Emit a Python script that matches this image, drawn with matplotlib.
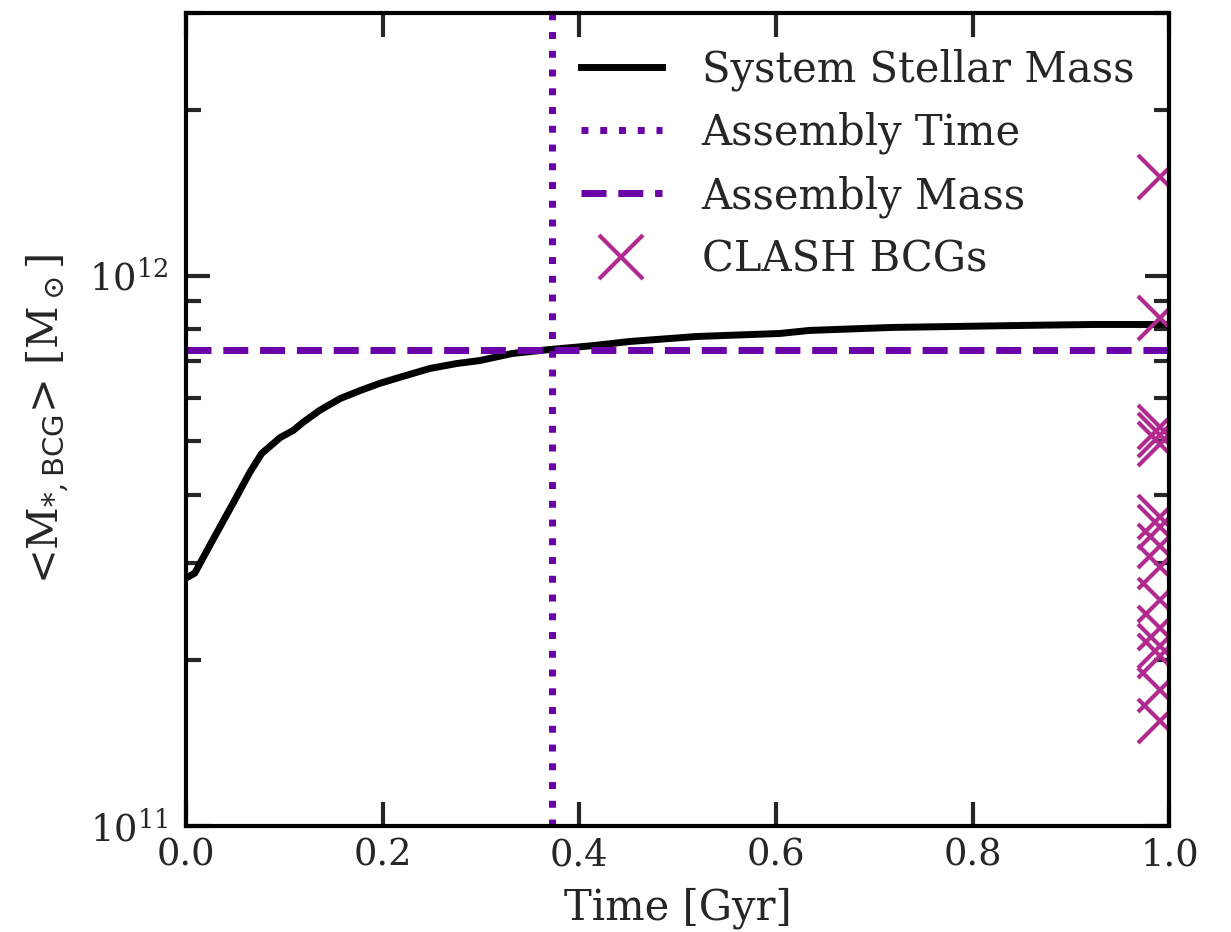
import numpy as np
import matplotlib.pyplot as plt

# mean BCG stellar mass growth (Gyr, Msun)
time_gyr = [0.0, 0.009, 0.027, 0.048, 0.065, 0.077, 0.096, 0.109, 0.119, 0.136,
            0.157, 0.177, 0.197, 0.217, 0.248, 0.275, 0.299, 0.332, 0.370, 0.414,
            0.451, 0.519, 0.604, 0.634, 0.718, 0.855, 0.922, 1.0]
stellar_mass = [2.82e11, 2.88e11, 3.30e11, 3.86e11, 4.39e11, 4.75e11, 5.08e11, 5.23e11,
                5.41e11, 5.69e11, 5.98e11, 6.18e11, 6.37e11, 6.53e11, 6.78e11, 6.92e11,
                7.01e11, 7.22e11, 7.34e11, 7.46e11, 7.59e11, 7.75e11, 7.85e11, 7.95e11,
                8.05e11, 8.12e11, 8.15e11, 8.15e11]

assembly_time = 0.372
assembly_mass = 7.34e11

# CLASH BCG stellar masses, plotted at the end of the run
clash_time = 0.99
clash_mass = [1.51e12, 8.39e11, 5.30e11, 5.14e11, 4.95e11, 3.64e11, 3.49e11, 3.22e11,
              2.96e11, 2.57e11, 2.29e11, 2.12e11, 2.04e11, 1.77e11, 1.55e11]

purple = plt.cm.plasma(0.2)
magenta = plt.cm.plasma(0.4)
grey = '#262626'

plt.rcParams['font.family'] = ['DejaVu Serif']
plt.rcParams['mathtext.fontset'] = 'dejavuserif'
plt.rcParams['text.color'] = grey
plt.rcParams['axes.labelcolor'] = grey
plt.rcParams['xtick.color'] = grey
plt.rcParams['ytick.color'] = grey

fig = plt.figure(figsize=(12.31, 9.32), dpi=100)
ax = fig.add_axes([0.151, 0.1137, 0.799, 0.8724])

ax.plot(time_gyr, stellar_mass, color='black', lw=5, label='System Stellar Mass')
ax.axvline(assembly_time, color=purple, lw=5, linestyle=(0, (1, 1.7)), label='Assembly Time')
ax.axhline(assembly_mass, color=purple, lw=5, linestyle=(0, (3.6, 1.7)), label='Assembly Mass')
ax.plot([clash_time] * len(clash_mass), clash_mass, 'x', color=magenta, ms=31, mew=3,
        linestyle='none', label='CLASH BCGs')

ax.set_yscale('log')
ax.set_xlim(0, 1)
ax.set_ylim(1e11, 3e12)
ax.set_xticks(np.arange(0, 1.01, 0.2))
ax.set_xticklabels(['0.0', '0.2', '0.4', '0.6', '0.8', '1.0'])

for side in ax.spines.values():
    side.set_linewidth(3)
ax.tick_params(which='both', direction='in', top=True, right=True, labelsize=26.5)
ax.tick_params(axis='x', pad=8)
ax.tick_params(axis='y', pad=13)
ax.tick_params(which='major', length=17, width=3)
ax.tick_params(which='minor', length=11, width=3)

ax.set_xlabel('Time [Gyr]', fontsize=30, labelpad=10)
ax.set_ylabel(r'<M$_{*,\mathsf{BCG}}$> [M$_\odot$]', fontsize=30, labelpad=12)

ax.legend(loc='upper right', frameon=False, fontsize=30, numpoints=1, handlelength=1.95,
          handletextpad=0.95, labelspacing=0.5, borderaxespad=0.45)

fig.savefig('out.png', dpi=100)
